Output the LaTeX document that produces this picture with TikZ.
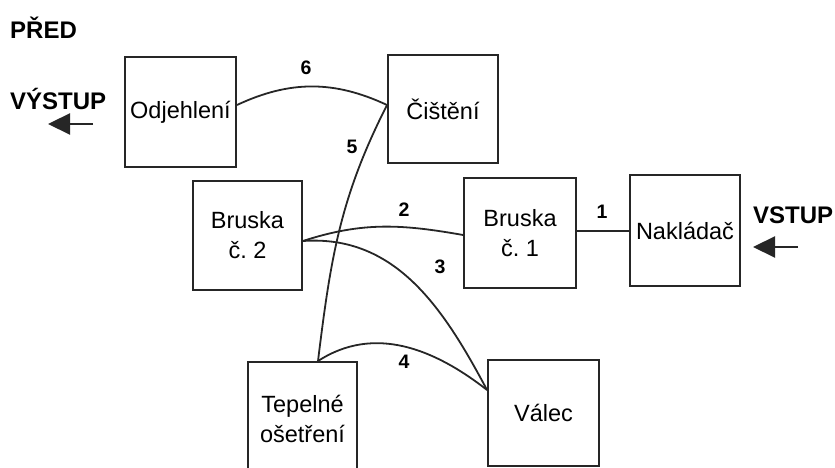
\documentclass[tikz,border=0pt]{standalone}
\usepackage{fontspec}
\setmainfont{Liberation Sans}
\usetikzlibrary{arrows.meta}
\frenchspacing
\begin{document}
\begin{tikzpicture}[x=1pt,y=1pt,
  machine/.style={draw=black!85, line width=1.9pt, inner sep=0pt, align=center,
    font=\fontsize{23.5}{30}\selectfont},
  flow/.style={draw=black!85, line width=1.8pt},
  stepno/.style={inner sep=0pt, font=\bfseries\fontsize{19.5}{20}\selectfont},
  heading/.style={inner sep=0pt, anchor=west, font=\bfseries\fontsize{24}{24}\selectfont},
  ioarrow/.style={draw=black!85, line width=2.2pt, -{Triangle[length=22pt,width=21pt]}}]
\useasboundingbox (0,0) rectangle (835,468);
\clip (0,0) rectangle (835,468);

% machines
\node[machine, minimum width=111pt, minimum height=110pt] (odj) at (180.5,356) {Odjehlení};
\node[machine, minimum width=110pt, minimum height=108pt] (cis) at (443,359) {Čištění};
\node[machine, minimum width=109pt, minimum height=109pt] (br2) at (247.5,232.5) {Bruska\\č.\ 2};
\node[machine, minimum width=112pt, minimum height=110pt] (br1) at (520,235) {Bruska\\č.\ 1};
\node[machine, minimum width=110pt, minimum height=111pt] (nak) at (685,237.5) {Nakládač};
\node[machine, minimum width=109pt, minimum height=114pt] (tep) at (302.5,49) {Tepelné\\ošetření};
\node[machine, minimum width=111pt, minimum height=106pt] (val) at (543.5,55) {Válec};

% material flow between machines
\draw[flow] (br1.east) ++(0,2) coordinate (b1e) -- (b1e -| nak.west);
\draw[flow] ([yshift=-5.5pt]br2.east) to[out=18,in=170] ([yshift=-2pt]br1.west);
\draw[flow] ([yshift=-5.5pt]br2.east) to[out=4,in=118] ([yshift=23pt]val.west);
\draw[flow] ([xshift=15.5pt]tep.north) to[out=33,in=142] ([yshift=23pt]val.west);
\draw[flow] ([xshift=15.5pt]tep.north) to[out=83,in=243] ([yshift=4pt]cis.west);
\draw[flow] ([yshift=7pt]odj.east) to[out=25,in=155] ([yshift=4pt]cis.west);

% step numbers
\node[stepno] (n1) at (602,256) {1};
\node[stepno] (n2) at (404,258) {2};
\node[stepno] (n3) at (440,201) {3};
\node[stepno] (n4) at (404,106) {4};
\node[stepno] (n5) at (352,321) {5};
\node[stepno] (n6) at (306,400) {6};

% headings and input / output
\node[heading] (pred) at (10,440) {PŘED};
\node[heading] (vystup) at (10,369) {VÝSTUP};
\node[heading] (vstup) at (753,253) {VSTUP};
\coordinate (outstart) at (93,344);
\coordinate (outend) at (48,344);
\coordinate (instart) at (798,221);
\coordinate (inend) at (753,221);
\draw[ioarrow] (outstart) -- (outend);
\draw[ioarrow] (instart) -- (inend);
\end{tikzpicture}
\end{document}
